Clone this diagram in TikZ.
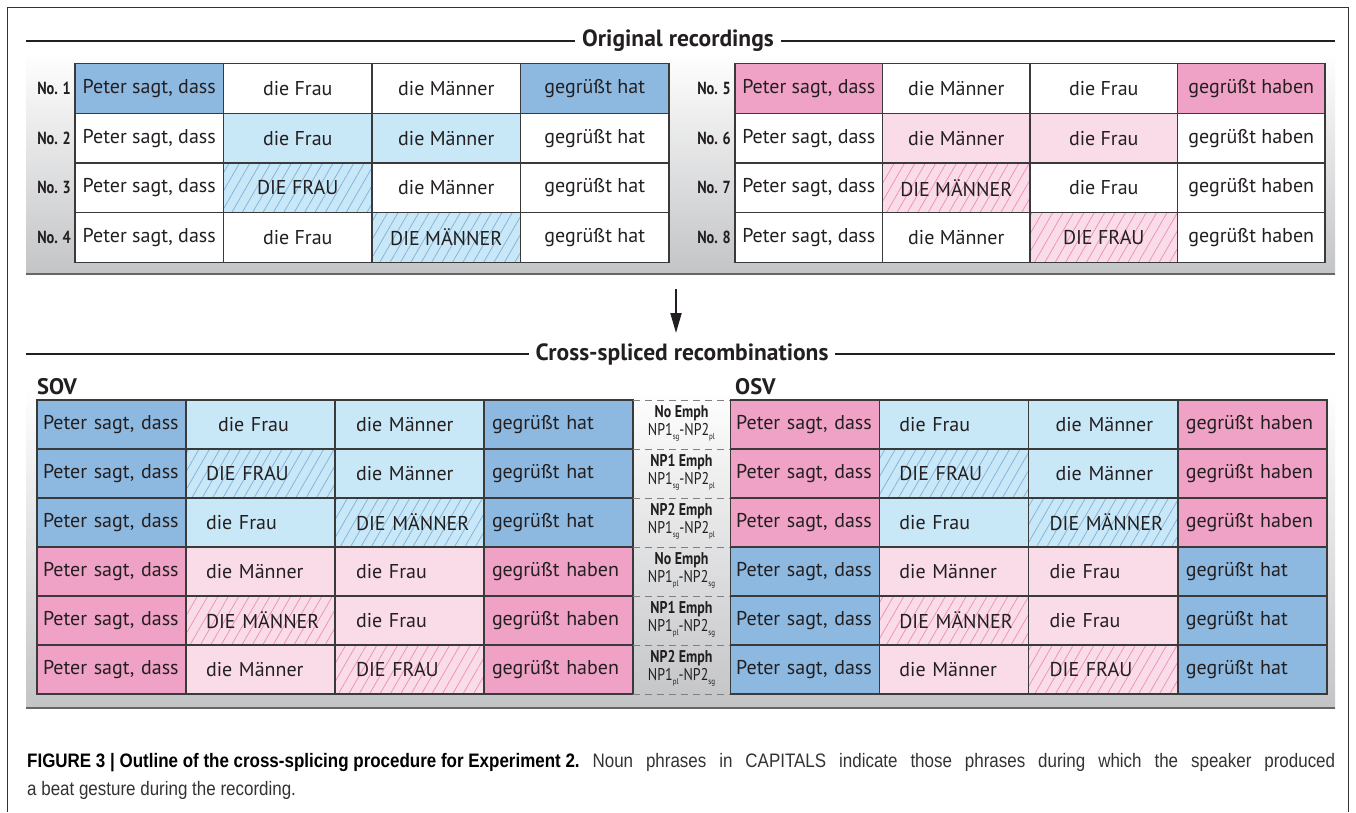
\documentclass[tikz,border=0pt]{standalone}
\usepackage{fontspec}
\setmainfont{PT Sans}
\newfontfamily\condfont[FakeStretch=0.82]{PT Sans}
\newfontfamily\capfont[FakeStretch=0.87]{Liberation Sans}
\usetikzlibrary{patterns.meta,arrows.meta}
\definecolor{dblue}{HTML}{8DB9E1}
\definecolor{lblue}{HTML}{C8E7F7}
\definecolor{hblue}{HTML}{7FB0DC}
\definecolor{dpink}{HTML}{EFA2C5}
\definecolor{lpink}{HTML}{FADBE8}
\definecolor{hpink}{HTML}{EC8DB8}
\definecolor{ink}{HTML}{231F20}
\definecolor{cellline}{HTML}{3A3A3A}
\definecolor{panelgray}{HTML}{C3C4C6}
\definecolor{capgray}{HTML}{333333}
\newcommand\sbs[1]{\raisebox{-4.5pt}{\fontsize{8.5}{9}\selectfont #1}}
\tikzset{
  cell/.style={draw=cellline,line width=1.2pt,minimum width=148.5pt,minimum height=49.75pt,inner sep=0pt,font=\fontsize{20}{23}\selectfont,text=ink},
  tcell/.style={cell,minimum width=147.5pt},
  bcell/.style={cell,minimum width=149pt,minimum height=49pt},
  wb/.style={fill=white},
  db/.style={fill=dblue},
  lb/.style={fill=lblue},
  dp/.style={fill=dpink},
  lp/.style={fill=lpink},
  hb/.style={preaction={fill=lblue},pattern={Lines[angle=60,distance=9pt,line width=0.7pt]},pattern color=hblue},
  hp/.style={preaction={fill=lpink},pattern={Lines[angle=60,distance=9pt,line width=0.7pt]},pattern color=hpink},
  pa/.style={inner xsep=6pt,text width=137pt,align=left},
  pb/.style={inner xsep=20pt,text width=109pt,align=left},
  pc/.style={inner xsep=21pt,text width=107pt,align=left},
  pd/.style={inner xsep=8pt,text width=133pt,align=left},
  nolab/.style={anchor=east,inner sep=0pt,font=\condfont\bfseries\fontsize{17.5}{19}\selectfont,text=ink},
  title/.style={fill=white,inner xsep=7pt,inner ysep=2pt,font=\bfseries\fontsize{23.5}{27}\selectfont,text=ink},
  grp/.style={anchor=west,inner sep=0pt,font=\bfseries\fontsize{22.5}{26}\selectfont,text=ink},
  mid/.style={align=center,inner sep=0pt,font=\condfont\fontsize{17}{17}\selectfont,text=ink},
  dashline/.style={draw=gray,dash pattern=on 7pt off 5pt,line width=0.9pt},
  panelline/.style={draw=gray!80!black,line width=1.4pt},
  caption/.style={anchor=west,inner sep=0pt,font=\capfont\fontsize{19.5}{22}\selectfont,text=capgray}
}
\begin{document}
\begin{tikzpicture}[x=1pt,y=-1pt]
\useasboundingbox (0,0) rectangle (1356,812);
\fill[white] (0,0) rectangle (1356,812);
% frame
\draw[line width=1pt,black!80] (7,812) -- (7,7) -- (1348,7) -- (1348,812);
% panels
\shade[top color=white,bottom color=panelgray] (26,52) rectangle (1335,274);
\draw[panelline] (26,274) -- (1335,274);
\shade[top color=white,bottom color=panelgray] (26,388) rectangle (1335,708);
\draw[panelline] (26,708) -- (1335,708);
% titles
\draw[line width=1.2pt,ink] (26,41) -- (1335,41);
\node[title] (t1) at (678,41) {Original recordings};
\draw[line width=1.2pt,ink] (26,354) -- (1335,354);
\node[title] (t2) at (682,354) {Cross-spliced recombinations};
% arrow
\coordinate (a1) at (676,289);
\coordinate (a2) at (676,333);
\draw[line width=2pt,ink,-{Triangle[length=20pt,width=11pt]}] (a1) -- (a2);

% ---- top left table ----
\node[cell,db] (r1c1) at (149.25,88.5) {Peter sagt, dass};
\node[cell,wb] (r1c2) at (297.75,88.5) {die Frau};
\node[cell,wb] (r1c3) at (446.25,88.5) {die Männer};
\node[cell,db] (r1c4) at (594.75,88.5) {gegrüßt hat};
\node[cell,wb] (r2c1) at (149.25,138.2) {Peter sagt, dass};
\node[cell,lb] (r2c2) at (297.75,138.2) {die Frau};
\node[cell,lb] (r2c3) at (446.25,138.2) {die Männer};
\node[cell,wb] (r2c4) at (594.75,138.2) {gegrüßt hat};
\node[cell,wb] (r3c1) at (149.25,187.9) {Peter sagt, dass};
\node[cell,hb] (r3c2) at (297.75,187.9) {DIE FRAU};
\node[cell,wb] (r3c3) at (446.25,187.9) {die Männer};
\node[cell,wb] (r3c4) at (594.75,187.9) {gegrüßt hat};
\node[cell,wb] (r4c1) at (149.25,237.6) {Peter sagt, dass};
\node[cell,wb] (r4c2) at (297.75,237.6) {die Frau};
\node[cell,hb] (r4c3) at (446.25,237.6) {DIE MÄNNER};
\node[cell,wb] (r4c4) at (594.75,237.6) {gegrüßt hat};
\node[nolab] (n1) at (71,88.5) {No. 1};
\node[nolab] (n2) at (71,138.2) {No. 2};
\node[nolab] (n3) at (71,187.9) {No. 3};
\node[nolab] (n4) at (71,237.6) {No. 4};
% ---- top right table ----
\node[tcell,dp] (r5c1) at (808.75,88.5) {Peter sagt, dass};
\node[tcell,wb] (r5c2) at (956.25,88.5) {die Männer};
\node[tcell,wb] (r5c3) at (1103.75,88.5) {die Frau};
\node[tcell,dp] (r5c4) at (1251.25,88.5) {gegrüßt haben};
\node[tcell,wb] (r6c1) at (808.75,138.2) {Peter sagt, dass};
\node[tcell,lp] (r6c2) at (956.25,138.2) {die Männer};
\node[tcell,lp] (r6c3) at (1103.75,138.2) {die Frau};
\node[tcell,wb] (r6c4) at (1251.25,138.2) {gegrüßt haben};
\node[tcell,wb] (r7c1) at (808.75,187.9) {Peter sagt, dass};
\node[tcell,hp] (r7c2) at (956.25,187.9) {DIE MÄNNER};
\node[tcell,wb] (r7c3) at (1103.75,187.9) {die Frau};
\node[tcell,wb] (r7c4) at (1251.25,187.9) {gegrüßt haben};
\node[tcell,wb] (r8c1) at (808.75,237.6) {Peter sagt, dass};
\node[tcell,wb] (r8c2) at (956.25,237.6) {die Männer};
\node[tcell,hp] (r8c3) at (1103.75,237.6) {DIE FRAU};
\node[tcell,wb] (r8c4) at (1251.25,237.6) {gegrüßt haben};
\node[nolab] (n5) at (731,88.5) {No. 5};
\node[nolab] (n6) at (731,138.2) {No. 6};
\node[nolab] (n7) at (731,187.9) {No. 7};
\node[nolab] (n8) at (731,237.6) {No. 8};

% ---- group labels ----
\node[grp] (sov) at (37,387) {SOV};
\node[grp] (osv) at (735,387) {OSV};

% ---- bottom left (SOV) ----
\node[bcell,db,pa] (s1c1) at (111.5,424.5) {Peter sagt, dass};
\node[bcell,lb,pb] (s1c2) at (260.5,424.5) {\hspace*{12pt}die Frau};
\node[bcell,lb,pc] (s1c3) at (409.5,424.5) {die Männer};
\node[bcell,db,pd] (s1c4) at (558.5,424.5) {gegrüßt hat};
\node[bcell,db,pa] (s2c1) at (111.5,473.5) {Peter sagt, dass};
\node[bcell,hb,pb] (s2c2) at (260.5,473.5) {DIE FRAU};
\node[bcell,lb,pc] (s2c3) at (409.5,473.5) {die Männer};
\node[bcell,db,pd] (s2c4) at (558.5,473.5) {gegrüßt hat};
\node[bcell,db,pa] (s3c1) at (111.5,522.5) {Peter sagt, dass};
\node[bcell,lb,pb] (s3c2) at (260.5,522.5) {die Frau};
\node[bcell,hb,pc] (s3c3) at (409.5,522.5) {\mbox{DIE MÄNNER}};
\node[bcell,db,pd] (s3c4) at (558.5,522.5) {gegrüßt hat};
\node[bcell,dp,pa] (s4c1) at (111.5,571.5) {Peter sagt, dass};
\node[bcell,lp,pb] (s4c2) at (260.5,571.5) {die Männer};
\node[bcell,lp,pc] (s4c3) at (409.5,571.5) {die Frau};
\node[bcell,dp,pd] (s4c4) at (558.5,571.5) {gegrüßt haben};
\node[bcell,dp,pa] (s5c1) at (111.5,620.5) {Peter sagt, dass};
\node[bcell,hp,pb] (s5c2) at (260.5,620.5) {\mbox{DIE MÄNNER}};
\node[bcell,lp,pc] (s5c3) at (409.5,620.5) {die Frau};
\node[bcell,dp,pd] (s5c4) at (558.5,620.5) {gegrüßt haben};
\node[bcell,dp,pa] (s6c1) at (111.5,669.5) {Peter sagt, dass};
\node[bcell,lp,pb] (s6c2) at (260.5,669.5) {die Männer};
\node[bcell,hp,pc] (s6c3) at (409.5,669.5) {DIE FRAU};
\node[bcell,dp,pd] (s6c4) at (558.5,669.5) {gegrüßt haben};

% ---- middle labels ----
\foreach \yy in {400,449,498,547,596,645,694}{
  \draw[dashline] (633,\yy) -- (730,\yy);
}
\node[mid] (m1) at (681.5,423.5) {{\bfseries No Emph}\\[1pt]NP1\sbs{sg}-NP2\sbs{pl}};
\node[mid] (m2) at (681.5,472.5) {{\bfseries NP1 Emph}\\[1pt]NP1\sbs{sg}-NP2\sbs{pl}};
\node[mid] (m3) at (681.5,521.5) {{\bfseries NP2 Emph}\\[1pt]NP1\sbs{sg}-NP2\sbs{pl}};
\node[mid] (m4) at (681.5,570.5) {{\bfseries No Emph}\\[1pt]NP1\sbs{pl}-NP2\sbs{sg}};
\node[mid] (m5) at (681.5,619.5) {{\bfseries NP1 Emph}\\[1pt]NP1\sbs{pl}-NP2\sbs{sg}};
\node[mid] (m6) at (681.5,668.5) {{\bfseries NP2 Emph}\\[1pt]NP1\sbs{pl}-NP2\sbs{sg}};

% ---- bottom right (OSV) ----
\node[bcell,dp,pa] (o1c1) at (804.6,424.5) {Peter sagt, dass};
\node[bcell,lb,pb] (o1c2) at (953.9,424.5) {die Frau};
\node[bcell,lb,pc] (o1c3) at (1103.1,424.5) {\hspace*{6pt}die Männer};
\node[bcell,dp,pd] (o1c4) at (1252.4,424.5) {gegrüßt haben};
\node[bcell,dp,pa] (o2c1) at (804.6,473.5) {Peter sagt, dass};
\node[bcell,hb,pb] (o2c2) at (953.9,473.5) {DIE FRAU};
\node[bcell,lb,pc] (o2c3) at (1103.1,473.5) {\hspace*{6pt}die Männer};
\node[bcell,dp,pd] (o2c4) at (1252.4,473.5) {gegrüßt haben};
\node[bcell,dp,pa] (o3c1) at (804.6,522.5) {Peter sagt, dass};
\node[bcell,lb,pb] (o3c2) at (953.9,522.5) {die Frau};
\node[bcell,hb,pc] (o3c3) at (1103.1,522.5) {\mbox{DIE MÄNNER}};
\node[bcell,dp,pd] (o3c4) at (1252.4,522.5) {gegrüßt haben};
\node[bcell,db,pa] (o4c1) at (804.6,571.5) {Peter sagt, dass};
\node[bcell,lp,pb] (o4c2) at (953.9,571.5) {die Männer};
\node[bcell,lp,pc] (o4c3) at (1103.1,571.5) {die Frau};
\node[bcell,db,pd] (o4c4) at (1252.4,571.5) {gegrüßt hat};
\node[bcell,db,pa] (o5c1) at (804.6,620.5) {Peter sagt, dass};
\node[bcell,hp,pb] (o5c2) at (953.9,620.5) {\mbox{DIE MÄNNER}};
\node[bcell,lp,pc] (o5c3) at (1103.1,620.5) {die Frau};
\node[bcell,db,pd] (o5c4) at (1252.4,620.5) {gegrüßt hat};
\node[bcell,db,pa] (o6c1) at (804.6,669.5) {Peter sagt, dass};
\node[bcell,lp,pb] (o6c2) at (953.9,669.5) {die Männer};
\node[bcell,hp,pc] (o6c3) at (1103.1,669.5) {DIE FRAU};
\node[bcell,db,pd] (o6c4) at (1252.4,669.5) {gegrüßt hat};

% ---- caption ----
\node[caption] (cap1) at (27,763) {\makebox[1308pt][s]{\mbox{\bfseries\color{black}FIGURE 3 | Outline of the cross-splicing procedure for Experiment 2.} Noun phrases in CAPITALS indicate those phrases during which the speaker produced}};
\node[caption] (cap2) at (27,790) {a beat gesture during the recording.};
\end{tikzpicture}
\end{document}
